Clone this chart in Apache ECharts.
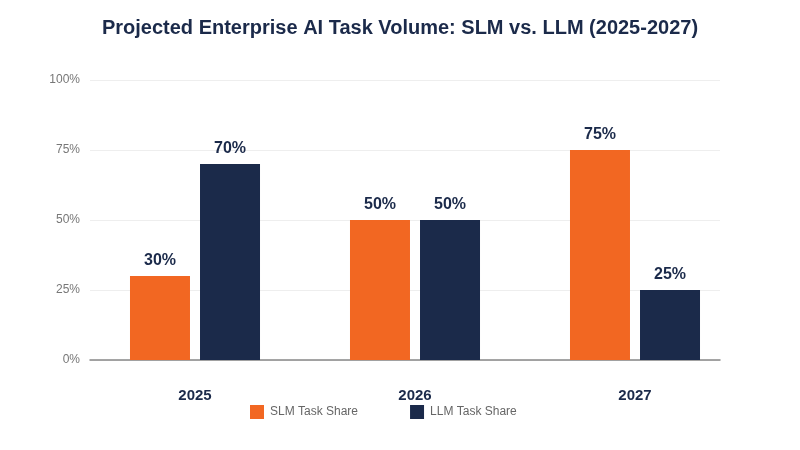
<!DOCTYPE html>
<html><head><meta charset="utf-8">
<script src="https://cdn.jsdelivr.net/npm/echarts@6/dist/echarts.min.js"></script>
<style>html,body{margin:0;padding:0;background:#fff}#c{width:800px;height:450px}</style>
</head><body><div id="c"></div>
<script>
const categories = ['2025', '2026', '2027'];
const slmShare = [30, 50, 75];
const llmShare = [70, 50, 25];
const yTicks = [0, 25, 50, 75, 100];

const chart = echarts.init(document.getElementById('c'), null, {renderer: 'canvas'});
const labelStyle = {show: true, position: 'top', distance: 7, formatter: '{c}%', fontSize: 16, fontWeight: 'bold', color: '#1b2a4a', fontFamily: 'Liberation Sans, Arial, sans-serif'};
const yMin = yTicks[0], yMax = yTicks[yTicks.length - 1];
chart.setOption({
  animation: false,
  textStyle: {fontFamily: 'Liberation Sans, Arial, sans-serif'},
  title: {text: 'Projected Enterprise AI Task Volume: SLM vs. LLM (2025-2027)', left: 'center', top: 13,
    textStyle: {fontSize: 20, fontWeight: 'bold', color: '#1b2a4a'}},
  legend: {top: 400, left: 245, itemWidth: 14, itemHeight: 14, itemGap: 52, icon: 'rect',
    textStyle: {fontSize: 12, color: '#666', padding: [0, 0, 0, 1]}},
  grid: [
    {left: 90, right: 80, top: 80, bottom: 90},
    {left: 85, right: 55, top: 80, bottom: 90}
  ],
  xAxis: [
    {type: 'category', gridIndex: 0, data: categories,
      axisLine: {lineStyle: {color: '#888', width: 1.5}}, axisTick: {show: false}, axisLabel: {show: false}},
    {type: 'category', gridIndex: 1, data: categories,
      axisLine: {show: false}, axisTick: {show: false},
      axisLabel: {margin: 28, fontSize: 15, fontWeight: 'bold', color: '#1b2a4a'}}
  ],
  yAxis: [
    {type: 'value', gridIndex: 0, min: yMin, max: yMax, interval: 25,
      axisLabel: {formatter: '{value}%', fontSize: 12, color: '#777', margin: 10},
      axisLine: {show: false}, axisTick: {show: false},
      splitLine: {lineStyle: {color: '#eeeeee', width: 1}}},
    {type: 'value', gridIndex: 1, min: yMin, max: yMax, interval: 25, show: false,
      splitLine: {show: false}}
  ],
  series: [
    {name: 'SLM Task Share', type: 'bar', xAxisIndex: 1, yAxisIndex: 1, data: slmShare, barWidth: 60, barGap: '16.7%',
      itemStyle: {color: '#f26722'}, label: labelStyle},
    {name: 'LLM Task Share', type: 'bar', xAxisIndex: 1, yAxisIndex: 1, data: llmShare, barWidth: 60,
      itemStyle: {color: '#1b2a4a'}, label: labelStyle}
  ]
});
</script></body></html>
